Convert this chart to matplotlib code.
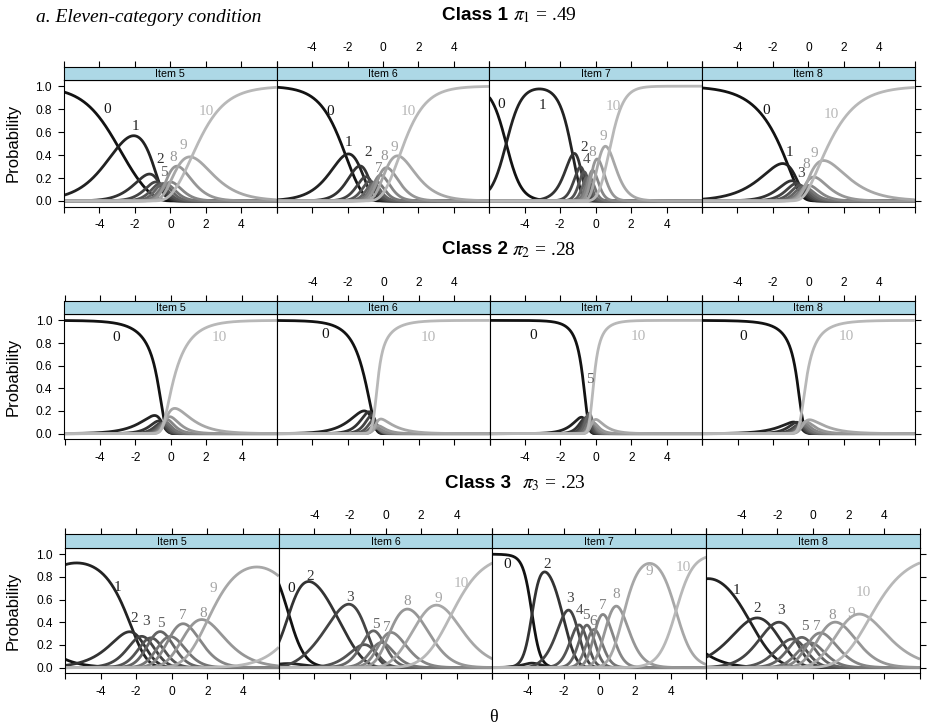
import numpy as np
import matplotlib
matplotlib.use('Agg')
import matplotlib.pyplot as plt

plt.rcParams['axes.unicode_minus'] = False
plt.rcParams['mathtext.fontset'] = 'stix'
plt.rcParams['font.family'] = ['Liberation Sans', 'DejaVu Sans']

items = ['Item 5', 'Item 6', 'Item 7', 'Item 8']
class_names = ['Class 1', 'Class 2', 'Class 3']
class_props = ['.49', '.28', '.23']

# partial credit model: one slope per item and 10 step thresholds, per class
slopes = [
    [0.961, 1.216, 2.351, 0.861],
    [1.093, 1.263, 1.865, 1.094],
    [1.001, 1.066, 2.106, 0.887],
]
thresholds = [
    [[-2.94, -0.61, -0.62, -0.60, -0.52, -0.25, -0.24, -0.45, 0.44, 1.20],
     [-2.12, -1.34, -0.81, -0.68, -0.55, -0.51, -0.50, -0.19, 0.22, 0.92],
     [-5.05, -1.30, -0.87, -0.68, -0.48, -0.42, -0.37, -0.19, 0.18, 0.77],
     [-1.14, -0.44, -0.63, -0.44, -0.29, -0.15, -0.25, -0.34, -0.07, 0.72]],
    [[0.28, -0.46, -0.46, -0.49, -0.52, -0.42, -0.41, -0.31, -0.30, -0.54],
     [-0.35, -0.89, -0.58, -0.37, -0.20, -0.14, -0.42, -0.55, -0.71, -1.43],
     [-0.07, -0.66, -0.65, -0.54, -0.49, -0.18, -0.17, -0.13, -0.22, -0.86],
     [0.85, -0.72, -0.39, -0.55, -0.44, -0.36, -0.41, -0.27, -0.19, -1.43]],
    [[-8.50, -2.14, -1.87, -1.38, -1.11, -0.23, -0.09, 1.02, 1.98, 7.50],
     [-3.02, -7.85, -2.80, -0.62, -1.37, -0.10, -0.30, 0.23, 1.93, 3.67],
     [-2.60, -4.96, -2.04, -1.27, -0.91, -0.45, -0.22, 0.48, 1.34, 4.30],
     [-8.10, -3.58, -2.38, -1.00, -0.96, -0.17, -0.26, 0.49, 1.68, 3.17]],
]

# curve labels: (category, theta, probability) per class and item
labels = [
    [[(0, -3.55, 0.80), (1, -1.99, 0.65), (2, -0.58, 0.36), (5, -0.39, 0.25), (8, 0.15, 0.38), (9, 0.76, 0.48), (10, 2.05, 0.78)],
     [(0, -2.99, 0.78), (1, -1.96, 0.51), (2, -0.83, 0.42), (7, -0.26, 0.28), (8, 0.06, 0.39), (9, 0.62, 0.47), (10, 1.43, 0.78)],
     [(0, -5.32, 0.84), (1, -3.01, 0.83), (2, -0.66, 0.47), (4, -0.53, 0.36), (8, -0.19, 0.42), (9, 0.41, 0.56), (10, 0.98, 0.82)],
     [(0, -2.37, 0.79), (1, -1.09, 0.42), (3, -0.43, 0.24), (8, -0.11, 0.32), (9, 0.36, 0.41), (10, 1.3, 0.75)]],
    [[(0, -3.08, 0.85), (10, 2.75, 0.85)],
     [(0, -3.27, 0.88), (10, 2.56, 0.85)],
     [(0, -3.54, 0.87), (5, -0.34, 0.48), (10, 2.39, 0.86)],
     [(0, -3.68, 0.86), (10, 2.15, 0.86)]],
    [[(1, -3.08, 0.71), (2, -2.1, 0.43), (3, -1.43, 0.41), (5, -0.6, 0.39), (7, 0.59, 0.46), (8, 1.75, 0.48), (9, 2.34, 0.70)],
     [(0, -5.32, 0.70), (2, -4.23, 0.80), (3, -1.99, 0.62), (5, -0.53, 0.38), (7, 0.04, 0.35), (8, 1.2, 0.58), (9, 2.95, 0.61), (10, 4.27, 0.74)],
     [(0, -5.17, 0.91), (2, -2.95, 0.91), (3, -1.64, 0.61), (4, -1.13, 0.50), (5, -0.75, 0.46), (6, -0.34, 0.41), (7, 0.19, 0.55), (8, 0.94, 0.64), (9, 2.82, 0.85), (10, 4.7, 0.88)],
     [(1, -4.32, 0.68), (2, -3.16, 0.52), (3, -1.78, 0.50), (5, -0.47, 0.36), (7, 0.23, 0.36), (8, 1.09, 0.46), (9, 2.17, 0.48), (10, 2.82, 0.66)]],
]


def category_probs(theta, a, steps):
    k = np.arange(len(steps) + 1)
    cum = np.concatenate([[0.0], np.cumsum(steps)])
    logit = a * (np.outer(theta, k) - cum)
    logit -= logit.max(axis=1, keepdims=True)
    p = np.exp(logit)
    return p / p.sum(axis=1, keepdims=True)


W, H = 929, 726
fig = plt.figure(figsize=(W / 100, H / 100), dpi=100)

# strip top, panel top, panel bottom, left, right (pixels)
rows = [(66.7, 80, 206.7, 64, 914.7), (301, 314.3, 439.3, 64.5, 914.7), (534.3, 548, 673.3, 65, 920)]
title_pos = [(442, 15, 513), (441.7, 250, 511.7), (445, 483, 521.7)]
theta = np.linspace(-6, 6, 500)
grays = [str(round(0.07 + 0.065 * k, 3)) for k in range(11)]
xt = [-6, -4, -2, 0, 2, 4, 6]
xtl = ['', '-4', '-2', '0', '2', '4', '']
tick_kw = dict(direction='out', length=4.3, width=0.8, labelsize=8.6, pad=4.5)

for r in range(3):
    st, pt, pb, L, R = rows[r]
    pw = (R - L) / 4
    for c in range(4):
        x0 = (L + c * pw) / W
        ax = fig.add_axes([x0, 1 - pb / H, pw / W, (pb - pt) / H])
        P = category_probs(theta, slopes[r][c], thresholds[r][c])
        for k in range(11):
            ax.plot(theta, P[:, k], color=grays[k], lw=2.0, solid_capstyle='butt')
        for (k, t, v) in labels[r][c]:
            ax.text(t, v, str(k), color=grays[k], fontsize=11, family='Liberation Serif',
                    ha='center', va='center')
        ax.set_xlim(-6, 6)
        ax.set_ylim(-0.05, 1.054)
        ax.set_xticks(xt)
        ax.tick_params(axis='x', top=False, bottom=True, labelbottom=(c % 2 == 0), **tick_kw)
        ax.set_xticklabels(xtl)
        ax.set_yticks([0, 0.2, 0.4, 0.6, 0.8, 1.0])
        ax.set_yticklabels(['0.0', '0.2', '0.4', '0.6', '0.8', '1.0'])
        ax.tick_params(axis='y', left=(c == 0), labelleft=(c == 0), right=(c == 3), labelright=False, **tick_kw)
        for s in ax.spines.values():
            s.set_linewidth(0.8)

        # strip on top of each panel
        sx = fig.add_axes([x0, 1 - pt / H, pw / W, (pt - st) / H])
        sx.set_facecolor('#add8e6')
        sx.set_xlim(-6, 6)
        sx.set_yticks([])
        sx.set_xticks(xt)
        sx.set_xticklabels(xtl)
        sx.tick_params(axis='x', top=True, bottom=False, labeltop=(c % 2 == 1), labelbottom=False, **tick_kw)
        for s in sx.spines.values():
            s.set_linewidth(0.8)
        sx.text(0.5, 0.45, items[c], transform=sx.transAxes, ha='center', va='center', fontsize=7.7)

    fig.text(13 / W, 1 - (pt + pb) / 2 / H, 'Probability', rotation=90, ha='center', va='center', fontsize=12)
    tx, ty, px = title_pos[r]
    fig.text(tx / W, 1 - ty / H, class_names[r], fontsize=13.6, fontweight='bold', ha='left', va='center')
    fig.text(px / W, 1 - ty / H, r'$\pi_%d$ = %s' % (r + 1, class_props[r]), fontsize=14,
             family='Liberation Serif', ha='left', va='center')

fig.text(36 / W, 1 - 17 / H, 'a. Eleven-category condition', fontsize=14, family='Liberation Serif',
         style='italic', ha='left', va='center')
fig.text(493 / W, 1 - 718 / H, '\u03b8', fontsize=13, family='Liberation Serif', ha='center', va='center')

fig.savefig('out.png', dpi=100)
